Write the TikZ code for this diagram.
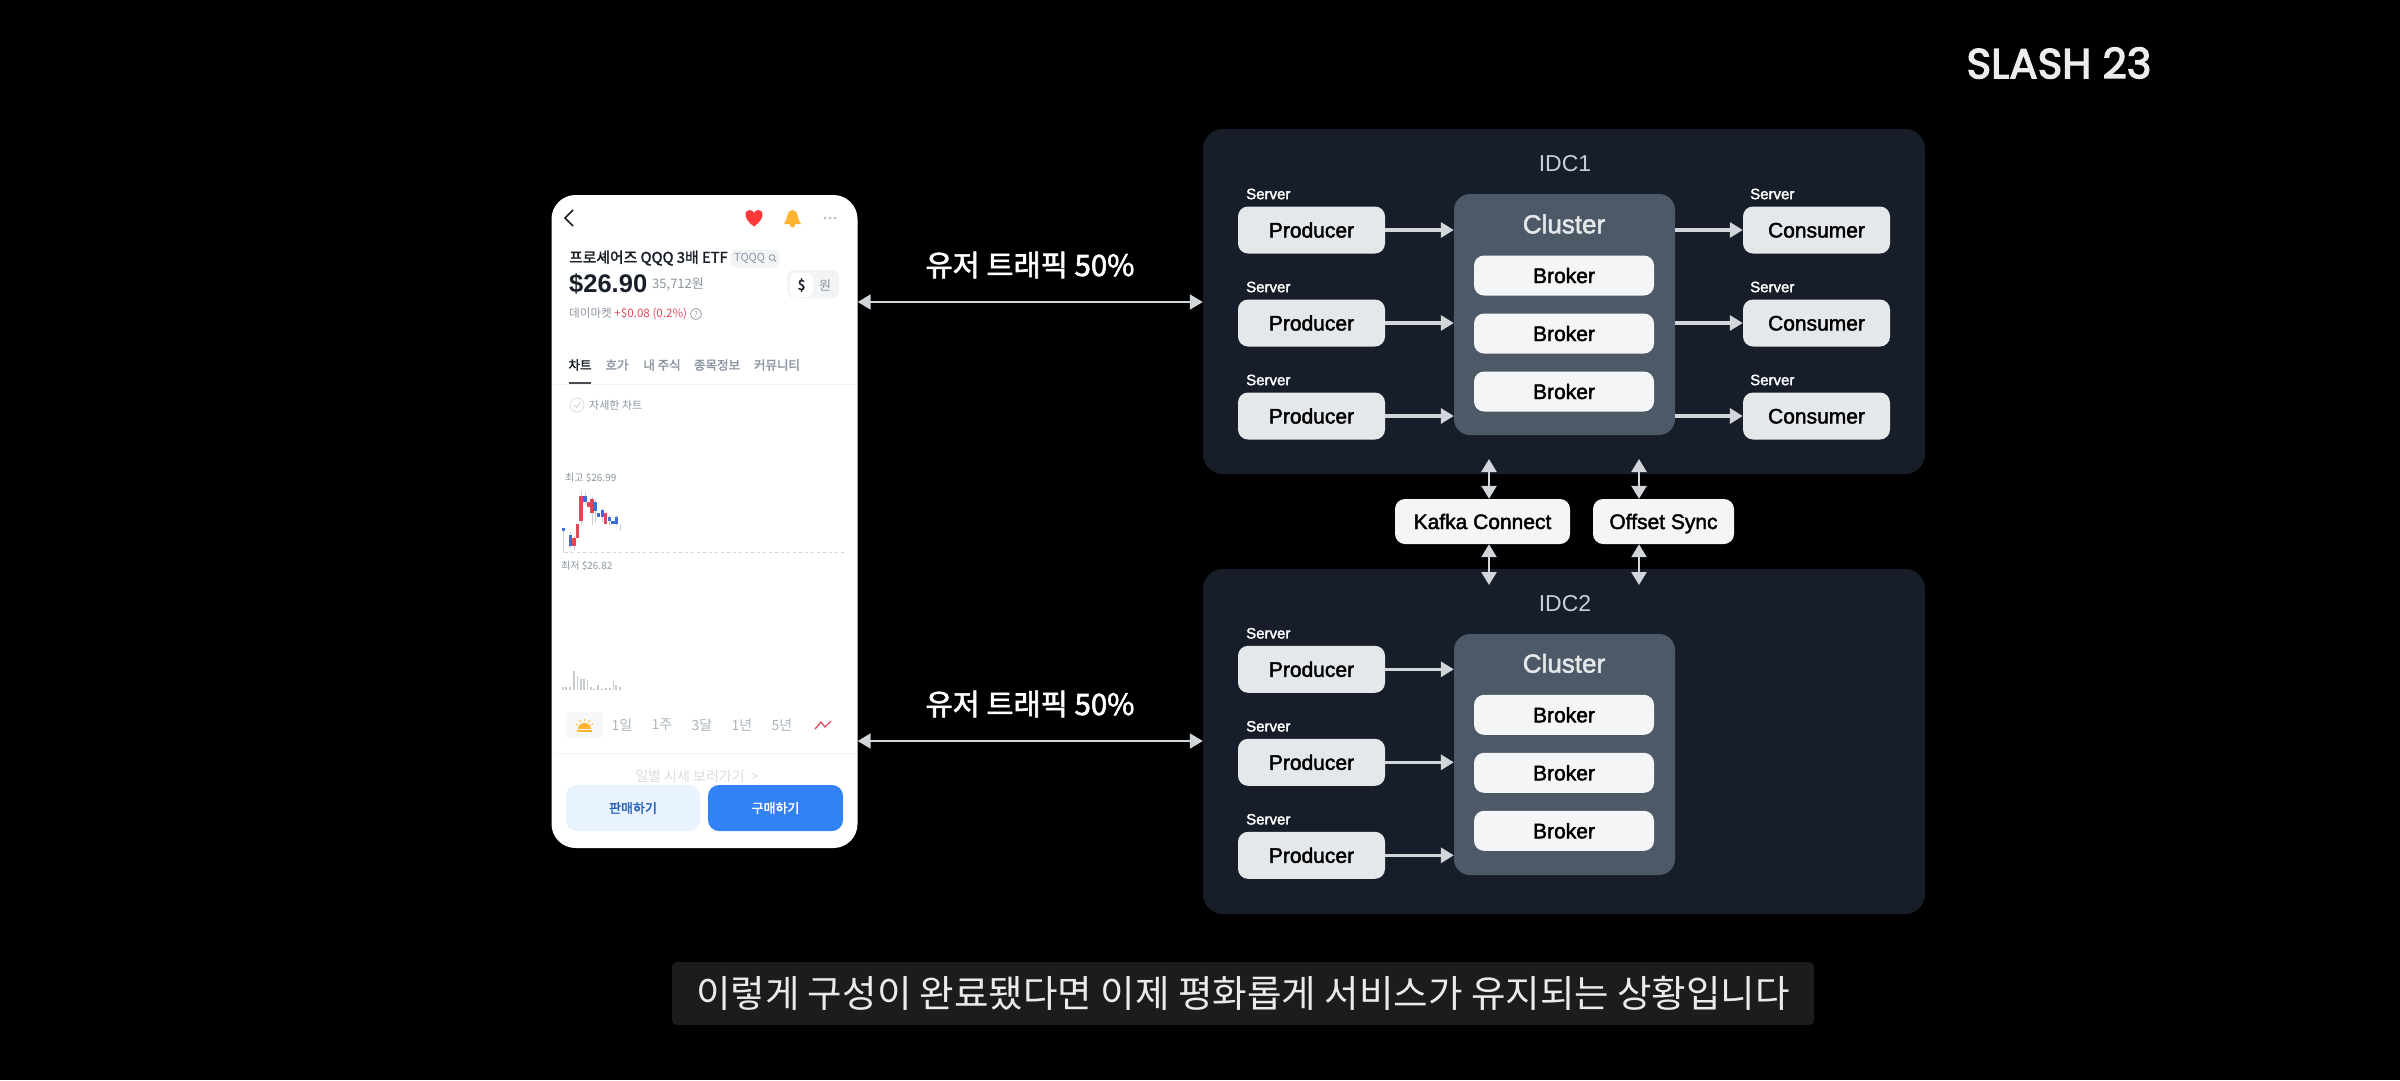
\documentclass[tikz,border=0pt]{standalone}
\usepackage{fontspec}
\usetikzlibrary{arrows.meta}
\setmainfont{Liberation Sans}
\newfontfamily\medfont{Liberation Sans}[FakeBold=2]
\newfontfamily\cjk{Noto Sans CJK KR}
\newfontfamily\cjkmed{Noto Sans CJK KR}[FakeBold=2]
\newfontfamily\logofont{Poppins}[FakeBold=3]
\newcommand{\pxfont}[1]{\fontsize{#1}{#1}\selectfont}
\definecolor{panelbg}{HTML}{171E29}
\definecolor{clusterbg}{HTML}{4E5968}
\definecolor{prodbg}{HTML}{E5E8EB}
\definecolor{brokerbg}{HTML}{F4F5F7}
\definecolor{arrowgray}{HTML}{D1D6DB}
\definecolor{idctext}{HTML}{C9CED6}
\definecolor{subbg}{HTML}{1C1C1C}
\definecolor{graytext}{HTML}{8B95A1}
\definecolor{lightline}{HTML}{F2F4F6}
\definecolor{darktext}{HTML}{191F28}
\definecolor{candlered}{HTML}{E0475B}
\definecolor{candleblue}{HTML}{3C6FD8}
\definecolor{btnblue}{HTML}{3182F6}
\definecolor{btnpale}{HTML}{E8F3FF}
\definecolor{sunorange}{HTML}{FFB331}
\tikzset{
  panel/.style={fill=panelbg,rounded corners=20pt,minimum width=722pt,minimum height=345pt,inner sep=0pt},
  clusterbox/.style={fill=clusterbg,rounded corners=16pt,minimum width=221pt,minimum height=241pt,inner sep=0pt},
  srvbox/.style={fill=prodbg,rounded corners=10pt,minimum width=147pt,minimum height=47pt,inner sep=0pt,text height=15pt,text depth=0pt,text=black,font=\medfont\pxfont{21}},
  brokerbox/.style={fill=brokerbg,rounded corners=10pt,minimum width=180pt,minimum height=40pt,inner sep=0pt,text height=15pt,text depth=0pt,text=black,font=\medfont\pxfont{21}},
  syncbox/.style={fill=brokerbg,rounded corners=10pt,minimum height=45pt,inner sep=0pt,text height=15pt,text depth=0pt,text=black,font=\medfont\pxfont{21}},
  srvlabel/.style={anchor=west,inner sep=0pt,text=white,font=\medfont\pxfont{15}},
  flow/.style={draw=arrowgray,line width=3.5pt,-{Triangle[length=13pt,width=15pt]}},
  twoway/.style={draw=arrowgray,line width=2.5pt,{Triangle[length=13pt,width=15pt]}-{Triangle[length=13pt,width=15pt]}},
  phonetext/.style={anchor=west,inner sep=0pt,text=graytext,font=\cjk\pxfont{11.6}},
  tablabel/.style={inner sep=0pt,text=graytext,font=\cjkmed\pxfont{12.5}},
  rangelabel/.style={inner sep=0pt,text=graytext!70,font=\cjk\pxfont{14}}
}
\begin{document}
\begin{tikzpicture}[x=1pt,y=-1pt]
  \fill[black] (0,0) rectangle (2400,1080);
  \node[inner sep=0pt,text=white!93!black,font=\logofont\pxfont{42}] (logo) at (2059,63) {SLASH 23};

  % data centres
  \foreach \d/\o/\q in {1/0/0,2/440/439.3} {
    \node[panel] (idc\d) at (1564,301.5+\o) {};
    \node[inner sep=0pt,text=idctext,font=\pxfont{23}] (idc\d title) at (1565,164+\o) {IDC\d};
    \node[clusterbox] (cl\d) at (1564.5,314.5+\o) {};
    \node[inner sep=0pt,text=prodbg,font=\medfont\pxfont{26}] (cl\d title) at (1564,224+\q) {Cluster};
    \foreach \r/\y/\b in {1/230/275.5,2/323/333.5,3/416/391.5} {
      \node[brokerbox] (br\d\r) at (1564,\b+\q) {Broker};
      \node[srvbox] (pr\d\r) at (1311.5,\y+\q) {Producer};
      \node[srvlabel] (prs\d\r) at (1246,\y-36+\q) {Server};
      \draw[flow] (pr\d\r.east) -- (pr\d\r.east -| cl\d.west);
    }
  }
  \foreach \r/\y in {1/230,2/323,3/416} {
    \node[srvbox] (co\r) at (1816.5,\y) {Consumer};
    \node[srvlabel] (cos\r) at (1750,\y-36) {Server};
    \draw[flow] (co\r.west -| cl1.east) -- (co\r.west);
  }

  % links between the two
  \node[syncbox,minimum width=175pt] (kc) at (1482.5,521.5) {Kafka Connect};
  \node[syncbox,minimum width=141pt] (os) at (1663.5,521.5) {Offset Sync};
  \coordinate (kcup) at (1489,459);
  \coordinate (kcdn) at (1489,585);
  \coordinate (osup) at (1639,459);
  \coordinate (osdn) at (1639,585);
  \draw[twoway] (kcup) -- (kcup |- kc.north);
  \draw[twoway] (kcdn) -- (kcdn |- kc.south);
  \draw[twoway] (osup) -- (osup |- os.north);
  \draw[twoway] (osdn) -- (osdn |- os.south);

  % phone
  \node[fill=white,rounded corners=24pt,minimum width=306pt,minimum height=653pt,inner sep=0pt] (phone) at (704.5,521.5) {};
  \coordinate (tr1) at (phone.east |- 0,302);
  \coordinate (tr2) at (phone.east |- 0,741);
  \draw[twoway,line width=2pt] (tr1) -- (tr1 -| idc1.west);
  \draw[twoway,line width=2pt] (tr2) -- (tr2 -| idc2.west);
  \node[inner sep=0pt,text=white,font=\cjkmed\pxfont{29.5}] (traffic1) at (1030,265) {유저 트래픽 50\%};
  \node[inner sep=0pt,text=white,font=\cjkmed\pxfont{29.5}] (traffic2) at (1030,704) {유저 트래픽 50\%};

  % phone header
  \draw[darktext,line width=1.6pt] (573,210) -- (565,218) -- (573,226);
  \fill[red!70!pink] (754,226.5) .. controls (743,219) and (744,210) .. (749.5,210) .. controls (752,210) and (753.5,211.5) .. (754,213) .. controls (754.5,211.5) and (756,210) .. (758.5,210) .. controls (764,210) and (765,219) .. (754,226.5) -- cycle;
  \fill[sunorange] (784,224) .. controls (788,220) and (786,210) .. (792.5,210) .. controls (799,210) and (797,220) .. (801,224) -- cycle;
  \fill[sunorange] (792.5,225) circle (2.6);
  \foreach \x in {825,830,835} { \fill[graytext!60] (\x,218) circle (1.5); }
  \node[phonetext,text=darktext,font=\cjkmed\pxfont{14.8}] (title) at (569,258) {프로셰어즈 QQQ 3배 ETF};
  \node[fill=lightline,rounded corners=5pt,minimum width=49pt,minimum height=18pt,inner sep=0pt] (chip) at (755,258.5) {};
  \node[phonetext,font=\cjk\pxfont{11}] (ticker) at (734,258) {TQQQ};
  \draw[graytext,line width=0.8pt] (772,257.5) circle (2.8);
  \draw[graytext,line width=0.8pt] (774,259.5) -- (776,261.5);
  \node[phonetext,text=darktext,font=\bfseries\pxfont{25.5}] (price) at (569,284) {\$26.90};
  \node[phonetext,font=\cjk\pxfont{13}] (won) at (652,284) {35,712원};
  \node[fill=lightline,rounded corners=7pt,minimum width=52pt,minimum height=28pt,inner sep=0pt] (toggle) at (813,284) {};
  \node[fill=white,rounded corners=6pt,minimum width=23pt,minimum height=24pt,inner sep=0pt] (togon) at (801.5,285) {};
  \node[inner sep=0pt,text=darktext,font=\cjkmed\pxfont{14}] (togd) at (801.5,285) {\$};
  \node[inner sep=0pt,text=graytext,font=\cjk\pxfont{13}] (togw) at (825,285) {원};
  \node[phonetext] (market) at (569,314) {데이마켓 \textcolor{candlered}{+\$0.08 (0.2\%)}};
  \node[draw=graytext,line width=0.7pt,circle,minimum size=11pt,inner sep=0pt,text=graytext,font=\cjk\pxfont{8}] (help) at (696,314) {?};

  % tabs
  \node[tablabel,text=darktext] (tab1) at (580,365) {차트};
  \node[tablabel] (tab2) at (617,365) {호가};
  \node[tablabel] (tab3) at (662,365) {내 주식};
  \node[tablabel] (tab4) at (717,365) {종목정보};
  \node[tablabel] (tab5) at (777,365) {커뮤니티};
  \draw[lightline,line width=1pt] (553,384) -- (856,384);
  \draw[darktext!80,line width=1.5pt] (569,383) -- (591,383);
  \node[draw=lightline!80!gray,line width=0.8pt,circle,minimum size=14pt,inner sep=0pt] (check) at (577,405) {};
  \draw[lightline!60!gray,line width=0.7pt] (574,405) -- (576.5,407.5) -- (580.5,402.5);
  \node[phonetext,font=\cjk\pxfont{11}] (detail) at (589,405) {자세한 차트};

  % chart
  \node[phonetext,font=\cjk\pxfont{10}] (high) at (565,478) {최고 \$26.99};
  \node[phonetext,font=\cjk\pxfont{10}] (low) at (561,566) {최저 \$26.82};
  \draw[graytext!40,line width=0.7pt,dashed] (565,552) -- (845,552);
  \foreach \x/\a/\b in {563.7/528/553,570.7/532/548,574/536/550,581/491/525,585/492/505,592/497/525,595/500/523,602.3/508/522,609.3/515/526,616.7/515/526,620/524/531} {
    \draw[graytext!45,line width=0.7pt] (\x,\a) -- (\x,\b);
  }
  \foreach \x/\a/\b in {574/538/546,577.7/524/538,581/496/521,588.3/502/507,592/499/513,605.7/513/524} {
    \fill[candlered] (\x-1.6,\a) rectangle (\x+1.6,\b);
  }
  \foreach \x/\a/\b in {563.7/528/531,570.7/535/546,585/496/502,595/502/511,598.7/513/517,602.3/510/517,609.3/517/521,613/521/524,616.7/517/524} {
    \fill[candleblue] (\x-1.6,\a) rectangle (\x+1.6,\b);
  }
  \foreach \x/\h in {563/3,566/3,570/3,574/19,577.6/14,581/11,584/11,587.6/10,591/3,594/1,598/5,602/1,606/2,610/2,613.5/9,616/5,620/3} {
    \fill[graytext!50] (\x-0.8,690) rectangle (\x+0.8,690-\h);
  }

  % period row
  \node[fill=lightline!70,rounded corners=4pt,minimum width=37pt,minimum height=26pt,inner sep=0pt] (now) at (584.5,725) {};
  \fill[sunorange] (578,729) .. controls (578,721) and (591,721) .. (591,729) -- cycle;
  \fill[sunorange] (577,730) rectangle (592,732);
  \foreach \a in {30,60,90,120,150} { \draw[sunorange,line width=1pt] (584.5,729) ++(\a:-8) -- ++(\a:-2); }
  \node[rangelabel] (r1) at (622,725) {1일};
  \node[rangelabel] (r2) at (662,725) {1주};
  \node[rangelabel] (r3) at (702,725) {3달};
  \node[rangelabel] (r4) at (742,725) {1년};
  \node[rangelabel] (r5) at (782,725) {5년};
  \draw[candlered,line width=1.3pt] (815,729) -- (821,722) -- (825,727) -- (831,721);
  \draw[lightline,line width=1pt] (553,753) -- (856,753);
  \node[inner sep=0pt,text=lightline!80!gray,font=\cjk\pxfont{14}] (daily) at (697,776) {일별 시세 보러가기 \ >};

  % buttons
  \node[fill=btnpale,rounded corners=11pt,minimum width=134pt,minimum height=46pt,inner sep=0pt,text=btnblue!75!black,font=\cjkmed\pxfont{13}] (sell) at (633,808) {판매하기};
  \node[fill=btnblue,rounded corners=11pt,minimum width=135pt,minimum height=46pt,inner sep=0pt,text=white,font=\cjkmed\pxfont{13}] (buy) at (775.5,808) {구매하기};

  % caption
  \node[fill=subbg,rounded corners=5pt,minimum width=1142pt,minimum height=63pt,inner sep=0pt] (capbg) at (1243,993.5) {};
  \node[inner sep=0pt,text=white!92!black,font=\cjk\pxfont{37.5}] (caption) at (1243,993) {이렇게 구성이 완료됐다면 이제 평화롭게 서비스가 유지되는 상황입니다};
\end{tikzpicture}
\end{document}
